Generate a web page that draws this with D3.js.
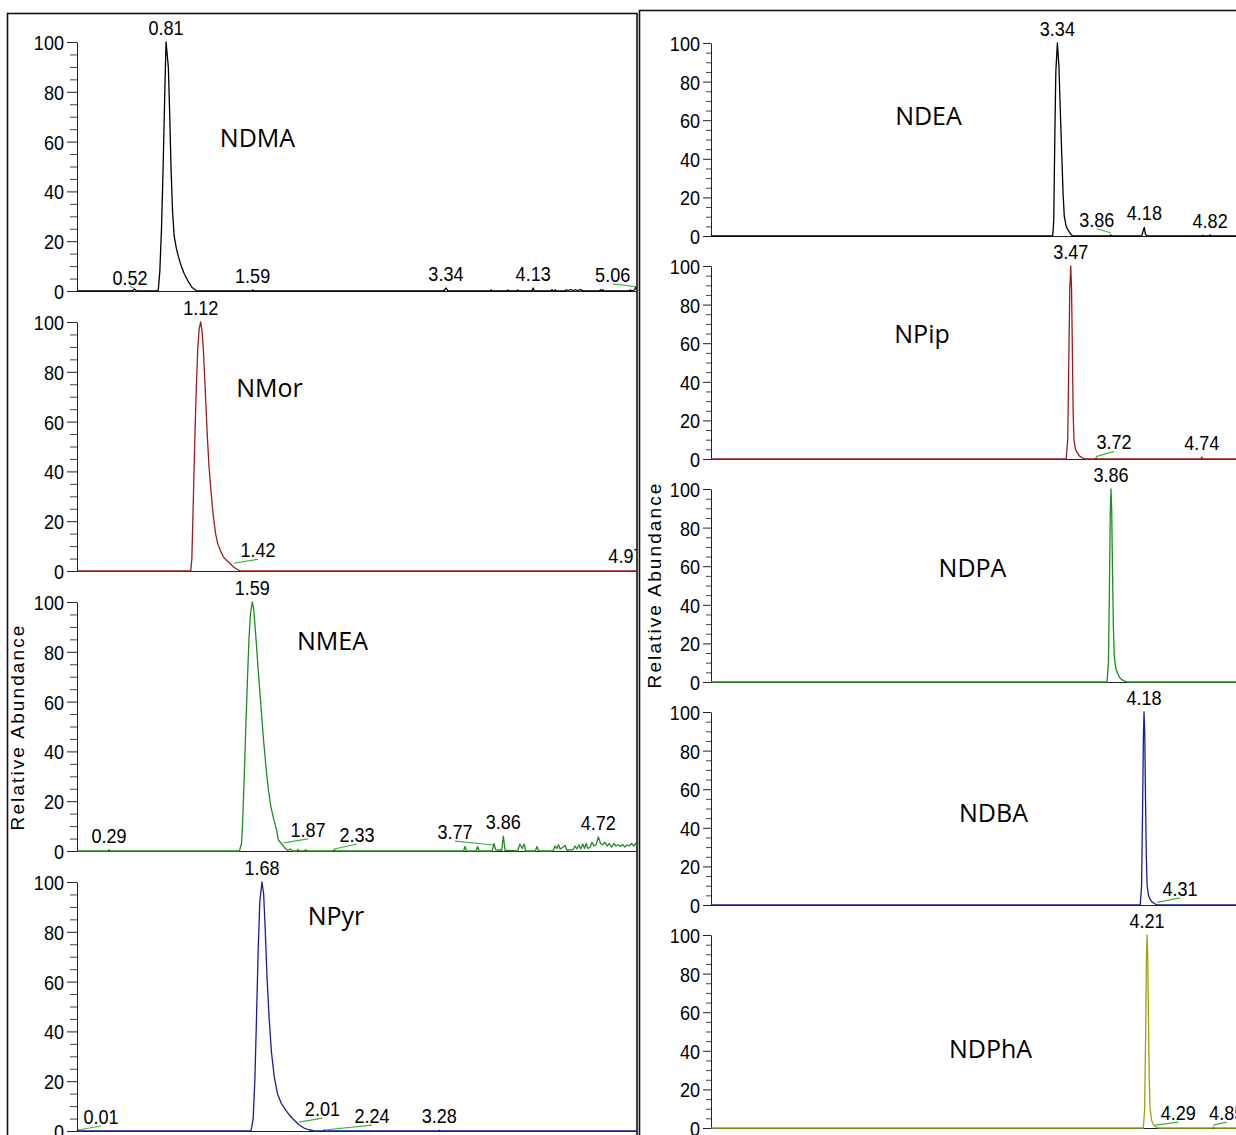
<!DOCTYPE html>
<html><head><meta charset="utf-8">
<script src="https://cdn.jsdelivr.net/npm/d3@7"></script>
<style>body{margin:0;background:#fff}svg{display:block}</style>
</head><body>
<svg id="c" width="1236" height="1135"></svg>
<script>
// ---------- DATA ----------
const timeDomain = [0, 5.07];
const yTicks = [0, 20, 40, 60, 80, 100];
const yTitle = "Relative Abundance";
const leftNames = ["NDMA", "NMor", "NMEA", "NPyr"];
const rightNames = ["NDEA", "NPip", "NDPA", "NDBA", "NDPhA"];

// traces: [retention time (min), relative abundance]
const ndmaTrace = [[0,0],[0.50,0],[0.52,0.8],[0.54,0],[0.735,0],[0.75,8],[0.765,25],[0.78,50],[0.795,80],[0.806,100],[0.827,90],[0.84,70],[0.851,50],[0.865,32],[0.88,22],[0.90,17],[0.917,14],[0.93,12],[0.948,9.5],[0.97,7],[1.005,4],[1.04,1.5],[1.084,0],[1.58,0],[1.59,0.4],[1.60,0],[3.32,0],[3.34,1.2],[3.36,0],[3.74,0],[3.75,0.4],[3.76,0],[3.89,0],[3.90,0.4],[3.91,0],[3.98,0],[3.99,0.4],[4.00,0],[4.12,0],[4.13,1.2],[4.14,0],[4.29,0],[4.30,0.5],[4.31,0],[4.32,0],[4.33,0.5],[4.34,0],[4.42,0],[4.43,0.5],[4.45,0.2],[4.47,0.6],[4.49,0.2],[4.51,0.5],[4.53,0.2],[4.56,0.6],[4.58,0],[4.73,0],[4.74,0.5],[4.75,0.1],[4.76,0.5],[4.77,0],[5.00,0],[5.01,0.4],[5.02,0],[5.05,0.5],[5.06,1.7],[5.07,0.5]];
const nmorTrace = [[0,0],[1.03,0],[1.04,5],[1.053,28],[1.065,50],[1.077,69],[1.093,89],[1.105,97],[1.12,100],[1.133,96],[1.144,89],[1.165,69],[1.18,54],[1.195,42],[1.215,31],[1.234,22],[1.255,15],[1.274,11],[1.30,8],[1.325,5.7],[1.355,4.2],[1.385,3.1],[1.415,1.7],[1.445,0.8],[1.476,0],[5.07,0]];
const nmeaTrace = [[0,0],[0.28,0],[0.29,0.5],[0.30,0],[1.47,0],[1.49,3],[1.50,12],[1.515,31],[1.53,52],[1.545,71],[1.557,85],[1.57,95],[1.587,100],[1.60,97],[1.621,85],[1.645,70],[1.666,58],[1.69,44],[1.717,31],[1.735,24],[1.754,18],[1.78,13],[1.808,8.4],[1.823,4.4],[1.85,3],[1.87,2],[1.89,0.8],[1.91,0.2],[1.93,0.8],[1.95,0],[1.99,0],[2.0,0.6],[2.01,0],[2.06,0],[2.07,0.5],[2.08,0],[2.32,0],[2.33,0.6],[2.34,0],[3.50,0],[3.513,1.8],[3.525,0],[3.615,0],[3.627,1.8],[3.64,0],[3.76,0],[3.775,3],[3.79,0.5],[3.845,0.3],[3.86,6],[3.875,0.3],[3.99,0],[4.01,2.8],[4.03,1],[4.047,2.8],[4.065,0],[4.15,0],[4.165,1.8],[4.18,0],[4.31,0],[4.327,2],[4.345,1],[4.36,2.5],[4.375,0.8],[4.40,1.5],[4.418,2.2],[4.435,0.4],[4.49,0.5],[4.509,2],[4.525,0.8],[4.545,2.4],[4.56,0.8],[4.58,2.8],[4.595,1],[4.61,3],[4.625,1],[4.645,1.5],[4.663,3.5],[4.68,2],[4.70,2.5],[4.72,5.7],[4.74,3],[4.76,2.5],[4.78,3.5],[4.80,2],[4.82,3],[4.84,1.5],[4.86,3],[4.88,2],[4.90,2.5],[4.92,1.8],[4.94,2.6],[4.96,1.6],[4.98,2.4],[5.00,2],[5.02,3],[5.04,2],[5.06,3.2],[5.07,2]];
const npyrTrace = [[0,0],[0.01,0.4],[0.03,0],[1.575,0],[1.595,5],[1.61,20],[1.625,45],[1.64,72],[1.655,92],[1.675,100],[1.69,95],[1.705,80],[1.72,62],[1.74,45],[1.76,32],[1.785,22],[1.815,15],[1.85,11],[1.89,8.4],[1.93,6],[1.965,4.4],[2.01,2.5],[2.055,1.2],[2.10,0.5],[2.146,0],[2.23,0],[2.24,0.4],[2.25,0],[3.27,0],[3.28,0.3],[3.29,0],[5.07,0]];
const ndeaTrace = [[0,0],[3.30,0],[3.31,8],[3.32,50],[3.33,85],[3.345,100],[3.36,88],[3.375,62],[3.39,38],[3.40,22],[3.412,10],[3.43,5],[3.449,3],[3.47,1.2],[3.494,0],[3.85,0],[3.86,0.5],[3.87,0],[4.16,0],[4.175,3],[4.185,4.5],[4.195,1],[4.21,0],[4.74,0],[4.75,0.3],[4.76,0],[4.81,0],[4.82,0.6],[4.83,0],[5.07,0]];
const npipTrace = [[0,0],[3.43,0],[3.445,10],[3.455,50],[3.465,88],[3.474,100],[3.482,88],[3.49,55],[3.497,25],[3.505,10],[3.52,5],[3.54,3],[3.56,1.5],[3.59,0.5],[3.62,0],[3.71,0],[3.72,0.5],[3.73,0],[4.73,0],[4.74,1.0],[4.75,0],[5.07,0]];
const ndpaTrace = [[0,0],[3.825,0],[3.838,10],[3.848,50],[3.856,88],[3.863,100],[3.870,88],[3.878,55],[3.886,28],[3.895,13],[3.91,7],[3.93,4],[3.95,2],[3.98,0.8],[4.02,0],[5.07,0]];
const ndbaTrace = [[0,0],[4.145,0],[4.158,10],[4.168,50],[4.176,88],[4.182,100],[4.189,88],[4.196,55],[4.204,25],[4.212,10],[4.225,5],[4.24,3],[4.26,1.5],[4.29,0.5],[4.32,0],[5.07,0]];
const ndphaTrace = [[0,0],[4.175,0],[4.188,10],[4.198,50],[4.205,88],[4.211,100],[4.218,88],[4.225,55],[4.232,25],[4.24,10],[4.255,4],[4.27,2],[4.29,0.8],[4.32,0],[4.84,0],[4.85,0.5],[4.86,0],[5.07,0]];

// peak labels: [text, peak time, peak abundance, label time, label abundance] (last two only for leader-line labels)
const ndmaLabels = [["0.81",0.806,100],["0.52",0.52,1.1,0.48,2.6],["1.59",1.59,0.4],["3.34",3.34,1.2],["4.13",4.13,1.2],["5.06",5.06,1.7,4.85,3.7]];
const nmorLabels = [["1.12",1.12,100],["1.42",1.42,3.1,1.639,5.5],["4.97",4.97,0.5]];
const nmeaLabels = [["0.29",0.29,0.5],["1.59",1.587,100],["1.87",1.87,3.3,2.091,5.7],["2.33",2.33,0.8,2.535,3.6],["3.77",3.77,2.4,3.422,4.8],["3.86",3.86,6],["4.72",4.72,5.7]];
const npyrLabels = [["0.01",0.01,0.4,0.217,2.8],["1.68",1.675,100],["2.01",2.01,3.6,2.222,6.0],["2.24",2.24,0.4,2.671,3.2],["3.28",3.28,0.3]];
const ndeaLabels = [["3.34",3.345,100],["3.86",3.86,1.7,3.725,4.8],["4.18",4.185,4.5],["4.82",4.82,0.6]];
const npipLabels = [["3.47",3.474,100],["3.72",3.72,1.2,3.892,5.0],["4.74",4.74,1.0]];
const ndpaLabels = [["3.86",3.863,100]];
const ndbaLabels = [["4.18",4.182,100],["4.31",4.31,1.4,4.529,4.7]];
const ndphaLabels = [["4.21",4.211,100],["4.29",4.29,1.5,4.513,4.1],["4.85",4.85,1.5,4.98,4.1]];

// ---------- LAYOUT / STYLE ----------
const traces = {NDMA:ndmaTrace,NMor:nmorTrace,NMEA:nmeaTrace,NPyr:npyrTrace,NDEA:ndeaTrace,NPip:npipTrace,NDPA:ndpaTrace,NDBA:ndbaTrace,NDPhA:ndphaTrace};
const labels = {NDMA:ndmaLabels,NMor:nmorLabels,NMEA:nmeaLabels,NPyr:npyrLabels,NDEA:ndeaLabels,NPip:npipLabels,NDPA:ndpaLabels,NDBA:ndbaLabels,NDPhA:ndphaLabels};
const colors = {NDMA:"#000000",NMor:"#9b1c1c",NMEA:"#1e8c1e",NPyr:"#1c1c96",NDEA:"#000000",NPip:"#9b1c1c",NDPA:"#1e8c1e",NDBA:"#1c1c96",NDPhA:"#a0a014"};
const namePos = {NDMA:[257.5,146.5],NMor:[269.5,396.5],NMEA:[332.5,649.5],NPyr:[336,925],NDEA:[928.5,124.5],NPip:[922,342.5],NDPA:[972.5,576.5],NDBA:[993.5,821.5],NDPhA:[990.5,1057.5]};

const numFont = "'Liberation Sans', Arial, sans-serif";
const numSize = 21, squeeze = 0.86;   // emulate a narrow numeric font
const nameFont = "'Open Sans', 'Noto Sans', sans-serif";
const leaderColor = "#3cb43c";

const svg = d3.select("#c");
const defs = svg.append("defs");
defs.append("clipPath").attr("id","clipL").append("rect").attr("x",0).attr("y",0).attr("width",636.5).attr("height",1135);
defs.append("clipPath").attr("id","clipR").append("rect").attr("x",640).attr("y",0).attr("width",600).attr("height",1135);

// frames
svg.append("rect").attr("x",7.5).attr("y",13.5).attr("width",629.5).attr("height",1200)
  .attr("fill","none").attr("stroke","#111").attr("stroke-width",1.6);
svg.append("rect").attr("x",639.5).attr("y",10.5).attr("width",700).attr("height",1200)
  .attr("fill","none").attr("stroke","#111").attr("stroke-width",1.6);

const minorTicks = d3.range(0,101,5).filter(v => v % 20 !== 0);

function narrowText(sel, x, y) {
  // draws squeezed text at (x, y)
  return sel.attr("transform", `translate(${x},${y}) scale(${squeeze},1)`)
    .attr("x", 0).attr("y", 0)
    .attr("font-family", numFont).attr("font-size", numSize).attr("fill", "#000");
}

function drawPanel(name, side, i) {
  const L = side === "L";
  const x0 = L ? 77 : 711;
  const x1 = L ? 77 + 110.45*5.07 : 711 + 103.55*5.07;
  const base = L ? 291 + 280*i : 236 + 223*i;
  const h = L ? 249 : 193;
  const major = L ? 10 : 8, minor = L ? 7 : 5;
  const x = d3.scaleLinear().domain(timeDomain).range([x0, x1]);
  const y = d3.scaleLinear().domain([0,100]).range([base, base - h]);
  const g = svg.append("g").attr("clip-path", L ? "url(#clipL)" : "url(#clipR)");

  // y axis (major)
  const ga = g.append("g").attr("transform",`translate(${x0},0)`)
    .call(d3.axisLeft(y).tickValues(yTicks).tickSize(major).tickSizeOuter(0).tickPadding(3));
  ga.selectAll(".tick text").each(function() {
    d3.select(this).attr("dy", null).attr("dominant-baseline", null);
    narrowText(d3.select(this), -(major + 3), 7.5);
  });
  ga.selectAll("line").attr("stroke","#222");
  ga.select(".domain").attr("stroke","#222");
  // minor ticks
  const gm = g.append("g").attr("transform",`translate(${x0},0)`)
    .call(d3.axisLeft(y).tickValues(minorTicks).tickSize(minor).tickSizeOuter(0).tickFormat(""));
  gm.select(".domain").remove();
  gm.selectAll("line").attr("stroke","#444");

  // x baseline
  g.append("line").attr("x1",x0).attr("x2",x1+2).attr("y1",base+0.5).attr("y2",base+0.5)
    .attr("stroke","#222").attr("stroke-width",1.2);

  // trace
  const line = d3.line().x(d => x(d[0])).y(d => y(d[1]));
  g.append("path").datum(traces[name]).attr("d", line)
    .attr("fill","none").attr("stroke", colors[name]).attr("stroke-width",1.3).attr("stroke-linejoin","round");

  // peak labels
  labels[name].forEach(lb => {
    const [txt, t, v, lt, lv] = lb;
    let lx, ly;
    if (lt !== undefined) {
      lx = x(lt); ly = y(lv);
      g.append("line").attr("x1", x(t)).attr("y1", y(v)).attr("x2", lx).attr("y2", ly + 2)
        .attr("stroke", leaderColor).attr("stroke-width", 1.2);
    } else {
      lx = x(t); ly = y(v) - 7;
    }
    narrowText(g.append("text").attr("text-anchor","middle"), lx, ly).text(txt);
  });

  // compound name
  const p = namePos[name];
  g.append("text").attr("x", p[0]).attr("y", p[1]).attr("text-anchor","middle")
    .attr("font-family", nameFont).attr("font-size", 25).attr("fill","#000").text(name);
}

leftNames.forEach((n,i) => drawPanel(n, "L", i));
rightNames.forEach((n,i) => drawPanel(n, "R", i));

// y-axis titles
[[17,727],[654,585]].forEach(([cx,cy]) => {
  svg.append("text").attr("transform",`translate(${cx},${cy}) rotate(-90)`)
    .attr("text-anchor","middle").attr("dy","0.35em")
    .attr("font-family", numFont).attr("font-size", 19).attr("letter-spacing", 2.1)
    .attr("fill","#000").text(yTitle);
});
</script>
</body></html>
